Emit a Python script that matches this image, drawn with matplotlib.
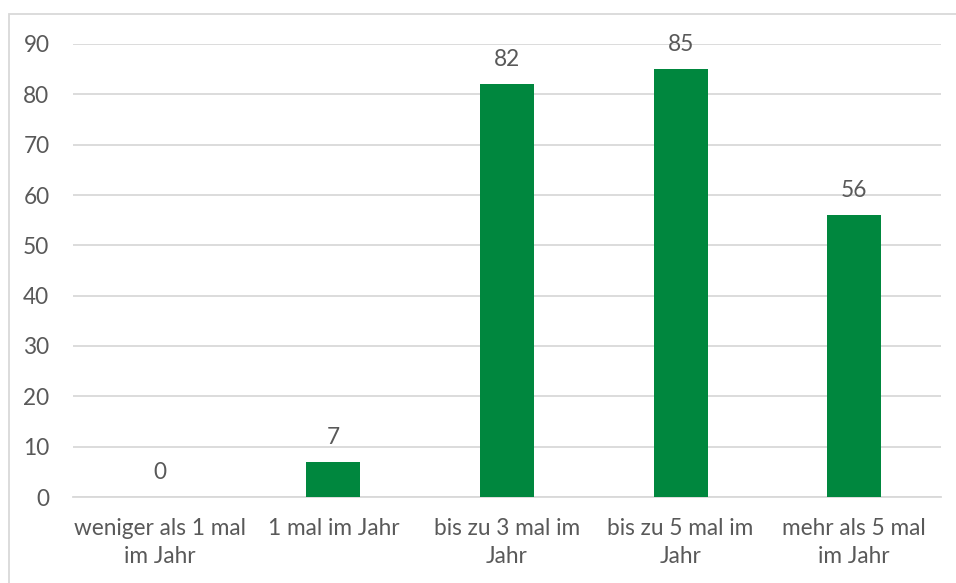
import numpy as np
import matplotlib.pyplot as plt
from matplotlib.patches import Rectangle

plt.rcParams['font.family'] = ['Lato', 'DejaVu Sans']

kategorien = ["weniger als 1 mal\nim Jahr", "1 mal im Jahr", "bis zu 3 mal im\nJahr",
              "bis zu 5 mal im\nJahr", "mehr als 5 mal\nim Jahr"]
anzahl = [0, 7, 82, 85, 56]

gruen = "#00873e"
grau_text = "#595959"
schrift = 16.3

fig = plt.figure(figsize=(9.56, 5.83), dpi=100)
# Rahmen um das Diagramm (rechts und unten ausserhalb des Bildes)
fig.patches.append(Rectangle((9 / 956, -0.05), 1.1, 1 - 14 / 583 + 0.05,
                             transform=fig.transFigure, fill=False,
                             edgecolor="#d9d9d9", linewidth=1.3))

ax = fig.add_axes([73 / 956, 1 - 497 / 583, (941 - 73) / 956, (497 - 44) / 583])
x = np.arange(len(kategorien))
balken = ax.bar(x, anzahl, width=0.31, color=gruen, zorder=3)
ax.bar_label(balken, labels=[str(v) for v in anzahl], padding=10,
             fontsize=schrift, color=grau_text)

ax.set_xlim(-0.5, len(kategorien) - 0.5)
ax.set_ylim(0, 90)
ax.set_yticks(range(0, 91, 10))
ax.grid(axis="y", color="#d9d9d9", linewidth=1.3, zorder=0)
ax.set_axisbelow(True)
for s in ["top", "right", "left"]:
    ax.spines[s].set_visible(False)
ax.spines["bottom"].set_color("#d9d9d9")
ax.spines["bottom"].set_linewidth(1.3)

ax.set_xticks(x)
ax.set_xticklabels(kategorien, fontsize=schrift, color=grau_text, linespacing=1.45)
ax.tick_params(axis="x", length=0, pad=15)
ax.tick_params(axis="y", length=0, pad=17, labelsize=schrift, labelcolor=grau_text)

fig.savefig("out.png", dpi=100)
